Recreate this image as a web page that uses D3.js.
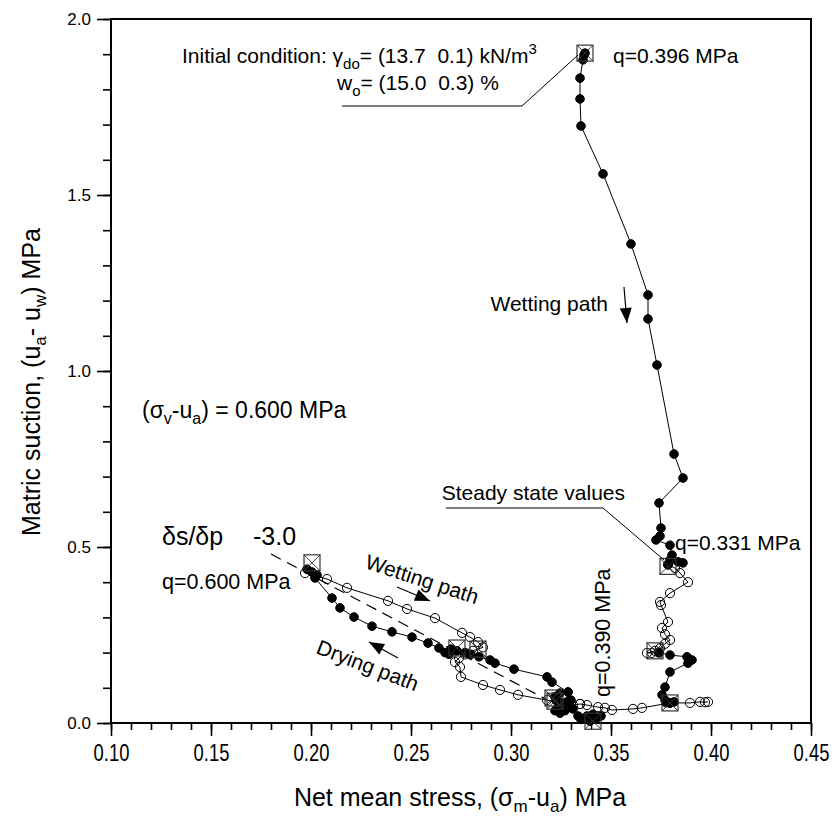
<!DOCTYPE html>
<html><head><meta charset="utf-8">
<script src="https://cdn.jsdelivr.net/npm/d3@7"></script>
<style>
body{margin:0;background:#fff;}
svg text{font-family:"Liberation Sans",Arial,sans-serif;fill:#000;white-space:pre;}
</style></head>
<body><svg id="c" width="839" height="817"></svg>
<script>
// ---- data ----
const xTicks = [0.10,0.15,0.20,0.25,0.30,0.35,0.40,0.45];
const yTicks = [0.0,0.5,1.0,1.5,2.0];
// Wetting path from initial condition (filled)
const wetFilled1 = [[0.337,1.903],[0.3365,1.897],[0.336,1.884],[0.3345,1.832],[0.3345,1.773],[0.335,1.696],[0.346,1.560],[0.360,1.361],[0.3685,1.216],[0.3685,1.148],[0.373,1.017],[0.3815,0.764],[0.386,0.696],[0.374,0.625],[0.375,0.554],[0.3745,0.531],[0.3725,0.520],[0.3795,0.505],[0.3805,0.477],[0.3835,0.458],[0.386,0.455],[0.3795,0.463],[0.3785,0.45]];
// open, 0.45 -> 0.20
const wetOpen2 = [[0.3785,0.45],[0.382,0.44],[0.3845,0.426],[0.3885,0.40],[0.3795,0.369],[0.3745,0.344],[0.375,0.335],[0.3785,0.287],[0.3755,0.270],[0.377,0.252],[0.3795,0.236],[0.377,0.225],[0.3745,0.212],[0.372,0.205],[0.368,0.199],[0.3705,0.199],[0.374,0.20]];
// filled, 0.20 -> 0.06
const wetFilled3 = [[0.374,0.20],[0.3795,0.193],[0.388,0.188],[0.3905,0.179],[0.3885,0.170],[0.3795,0.145],[0.377,0.102],[0.3755,0.080],[0.377,0.065],[0.3795,0.057],[0.3815,0.060],[0.3775,0.058]];
// open, along the bottom
const openBottom4 = [[0.3985,0.060],[0.397,0.059],[0.3945,0.060],[0.3895,0.057],[0.3795,0.057],[0.3655,0.043],[0.361,0.040],[0.3505,0.037],[0.347,0.043],[0.3435,0.045],[0.338,0.051],[0.3345,0.054]];
// filled cluster near the bottom
const filledCluster5 = [[0.3285,0.088],[0.3245,0.085],[0.322,0.075],[0.3225,0.065],[0.325,0.058],[0.328,0.060],[0.330,0.065],[0.327,0.050],[0.3235,0.045],[0.322,0.035],[0.3245,0.028],[0.327,0.035],[0.331,0.040],[0.3335,0.020],[0.337,0.015],[0.340,0.010],[0.343,0.015],[0.345,0.020],[0.341,0.025],[0.338,0.020],[0.335,0.010],[0.3395,0.005]];
// drying path (filled)
const dryFilled6 = [[0.3285,0.088],[0.3205,0.116],[0.318,0.131],[0.3015,0.153],[0.292,0.170],[0.2895,0.179],[0.284,0.188],[0.280,0.195],[0.277,0.200],[0.273,0.205],[0.270,0.210],[0.267,0.200],[0.269,0.195],[0.264,0.213],[0.2585,0.227],[0.2505,0.244],[0.2405,0.259],[0.2305,0.275],[0.2215,0.301],[0.2145,0.327],[0.2105,0.355],[0.202,0.412],[0.203,0.420],[0.2005,0.429],[0.198,0.437]];
// wetting path (open) from q=0.600 state
const wetOpen7 = [[0.197,0.426],[0.208,0.409],[0.218,0.384],[0.2385,0.347],[0.248,0.324],[0.262,0.298],[0.2755,0.256],[0.2795,0.244],[0.2835,0.230],[0.286,0.215],[0.281,0.205],[0.277,0.195],[0.274,0.185],[0.272,0.173],[0.2745,0.159],[0.275,0.131],[0.286,0.108],[0.2945,0.094],[0.3035,0.080],[0.318,0.065],[0.325,0.055],[0.331,0.050],[0.3345,0.054]];
// steady-state squares
const steadyState = [[0.337,1.903],[0.3785,0.445],[0.372,0.205],[0.3795,0.057],[0.341,0.005],[0.321,0.071],[0.322,0.062],[0.273,0.213],[0.2835,0.210],[0.2005,0.455]];
// dashed slope line ds/dp = -3.0
const slopeLine = [[0.18,0.48],[0.318,0.066]];

// ---- chart ----
const svg = d3.select("#c");
const x = d3.scaleLinear().domain([0.10,0.45]).range([111,811]);
const y = d3.scaleLinear().domain([0,2]).range([723,19]);

// axes
const xMinor = d3.range(0.10,0.4501,0.01);
const yMinor = d3.range(0,2.001,0.1);
const gx = svg.append("g").attr("transform","translate(0,723)");
gx.call(d3.axisBottom(x).tickValues(xMinor).tickSize(7).tickFormat(""));
gx.select(".domain").remove();
const gxM = svg.append("g").attr("transform","translate(0,723)");
gxM.call(d3.axisBottom(x).tickValues(xTicks).tickSize(13).tickPadding(8).tickFormat(d3.format(".2f")));
gxM.select(".domain").remove();
gxM.selectAll("text").attr("font-size",23).attr("font-family","Liberation Sans, Arial").attr("fill","#000")
  .attr("dy",null).attr("y",17).attr("transform","translate(0,21) scale(0.8,1)");
const gy = svg.append("g").attr("transform","translate(111,0)");
gy.call(d3.axisLeft(y).tickValues(yMinor).tickSize(8).tickFormat(""));
gy.select(".domain").remove();
const gyM = svg.append("g").attr("transform","translate(111,0)");
gyM.call(d3.axisLeft(y).tickValues(yTicks).tickSize(14).tickPadding(6).tickFormat(d3.format(".1f")));
gyM.select(".domain").remove();
gyM.selectAll("text").attr("font-size",17).attr("font-family","DejaVu Sans").attr("fill","#000");
svg.selectAll(".tick line").attr("stroke","#000").attr("stroke-width",1.6);

svg.append("rect").attr("x",111).attr("y",19).attr("width",700).attr("height",704)
  .attr("fill","none").attr("stroke","#000").attr("stroke-width",2);

// axis titles
const xt = svg.append("text").attr("x",460).attr("y",806).attr("text-anchor","middle").attr("font-size",25);
xt.append("tspan").text("Net mean stress, (\u03C3");
xt.append("tspan").attr("font-size",17).attr("dy",6).text("m");
xt.append("tspan").attr("dy",-6).text("-u");
xt.append("tspan").attr("font-size",17).attr("dy",6).text("a");
xt.append("tspan").attr("dy",-6).text(") MPa");
const yt = svg.append("text").attr("transform","translate(40,382) rotate(-90)").attr("text-anchor","middle").attr("font-size",25);
yt.append("tspan").text("Matric suction, (u");
yt.append("tspan").attr("font-size",17).attr("dy",6).text("a");
yt.append("tspan").attr("dy",-6).text("- u");
yt.append("tspan").attr("font-size",17).attr("dy",6).text("w");
yt.append("tspan").attr("dy",-6).text(") MPa");

// dashed line
const line = d3.line().x(d=>x(d[0])).y(d=>y(d[1]));
svg.append("path").attr("d",line(slopeLine)).attr("fill","none").attr("stroke","#000")
  .attr("stroke-width",1.2).attr("stroke-dasharray","11,7");

// series
function series(data){
  svg.append("path").attr("d",line(data)).attr("fill","none").attr("stroke","#000").attr("stroke-width",1);
}
function markers(data, filled){
  svg.append("g").selectAll("circle").data(data).join("circle")
    .attr("cx",d=>x(d[0])).attr("cy",d=>y(d[1])).attr("r",filled?4.3:4.6)
    .attr("fill",filled?"#000":"none").attr("stroke","#000").attr("stroke-width",1);
}
const all = [[wetOpen7,false],[openBottom4,false],[wetOpen2,false],[dryFilled6,true],[filledCluster5,true],[wetFilled3,true],[wetFilled1,true]];
all.forEach(([d,f])=>series(d));
all.forEach(([d,f])=>markers(d,f));

// steady-state squares
const sq = svg.append("g").selectAll("g").data(steadyState).join("g")
  .attr("transform",d=>`translate(${x(d[0])},${y(d[1])})`);
sq.append("rect").attr("x",-8).attr("y",-8).attr("width",16).attr("height",16)
  .attr("fill","none").attr("stroke","#333").attr("stroke-width",1.2);
sq.append("path").attr("d","M-8,-8L8,8M8,-8L-8,8").attr("stroke","#333").attr("stroke-width",1);

// annotations
function txt(xp,yp,s,size){
  const t = svg.append("text").attr("x",xp).attr("y",yp).attr("font-size",size||21);
  if(s) t.text(s);
  return t;
}
let t1 = txt(182,63,null,21);
t1.append("tspan").text("Initial condition: \u03B3");
t1.append("tspan").attr("font-size",15).attr("dy",6).text("do");
t1.append("tspan").attr("dy",-6).text("= (13.7  0.1) kN/m");
t1.append("tspan").attr("font-size",15).attr("dy",-9).text("3");
let t2 = txt(337,90,null,21);
t2.append("tspan").text("w");
t2.append("tspan").attr("font-size",15).attr("dy",6).text("o");
t2.append("tspan").attr("dy",-6).text("= (15.0  0.3) %");
svg.append("path").attr("d","M342,106L522,106L578,55").attr("fill","none").attr("stroke","#000").attr("stroke-width",1);
txt(613,63,"q=0.396 MPa",21);

txt(608,311,"Wetting path",21).attr("text-anchor","end");
function arrow(x1,y1,x2,y2){
  svg.append("line").attr("x1",x1).attr("y1",y1).attr("x2",x2).attr("y2",y2).attr("stroke","#000").attr("stroke-width",1.2);
  const a = Math.atan2(y2-y1,x2-x1), L=15, W=6;
  const bx = x2-L*Math.cos(a), by = y2-L*Math.sin(a);
  svg.append("path").attr("d",`M${x2},${y2}L${bx+W*Math.sin(a)},${by-W*Math.cos(a)}L${bx-W*Math.sin(a)},${by+W*Math.cos(a)}Z`).attr("fill","#000");
}
arrow(624,287,627,323);

let t3 = txt(142,418,null,23);
t3.append("tspan").text("(\u03C3");
t3.append("tspan").attr("font-size",16).attr("dy",6).text("v");
t3.append("tspan").attr("dy",-6).text("-u");
t3.append("tspan").attr("font-size",16).attr("dy",6).text("a");
t3.append("tspan").attr("dy",-6).text(") = 0.600 MPa");

txt(625,500,"Steady state values",21).attr("text-anchor","end");
svg.append("path").attr("d","M446,508L603,508L664,560").attr("fill","none").attr("stroke","#000").attr("stroke-width",1);
txt(675,550,"q=0.331 MPa",21);

txt(162,545,"\u03B4s/\u03B4p",25);
txt(253,545,"-3.0",25);
txt(162,589,"q=0.600 MPa",21.5);

svg.append("text").attr("transform","translate(364,568) rotate(18)").attr("font-size",21).text("Wetting path");
arrow(397,587,430,601);
svg.append("text").attr("transform","translate(315,653) rotate(21)").attr("font-size",21).text("Drying path");
arrow(398,658,369,642);
svg.append("text").attr("transform","translate(610,697) rotate(-90)").attr("font-size",21.5).text("q=0.390 MPa");
</script></body></html>
